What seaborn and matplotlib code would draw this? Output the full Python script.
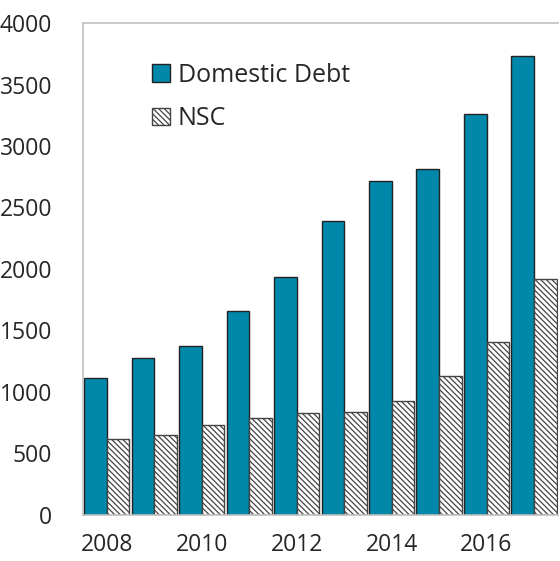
import matplotlib
matplotlib.use("Agg")
import matplotlib.pyplot as plt
import seaborn as sns
import pandas as pd
from matplotlib.patches import Patch

years = [2008, 2009, 2010, 2011, 2012, 2013, 2014, 2015, 2016, 2017]
domestic_debt = [1115, 1276, 1374, 1659, 1935, 2390, 2718, 2815, 3262, 3728]
nsc = [618, 650, 732, 789, 829, 838, 928, 1130, 1407, 1920]
series_names = ["Domestic Debt", "NSC"]
xtick_labels = ["2008", "2010", "2012", "2014", "2016"]
yticks = [0, 500, 1000, 1500, 2000, 2500, 3000, 3500, 4000]

df = pd.DataFrame({
    "year": [str(y) for y in years] * 2,
    "value": domestic_debt + nsc,
    "series": [series_names[0]] * len(years) + [series_names[1]] * len(years),
})

sns.set_style("white")
plt.rcParams["font.family"] = ["Open Sans", "DejaVu Sans"]
plt.rcParams["hatch.linewidth"] = 0.9

teal = "#0088AB"
hatch = "\\\\\\\\\\\\"
fig = plt.figure(figsize=(5.6, 5.61), dpi=100)
ax = fig.add_axes([0.148, 0.082, 0.848, 0.877])

sns.barplot(data=df, x="year", y="value", hue="series", palette=[teal, "white"],
            width=0.95, gap=0.0, edgecolor="#222222", linewidth=1.0, ax=ax,
            legend=False, saturation=1)

for bar in ax.containers[1]:
    bar.set_hatch(hatch)
    bar.set_facecolor("white")
    bar.set_edgecolor("#444444")

ax.set_xlim(-0.5, 9.5)
ax.set_ylim(0, 4000)
ax.set_yticks(yticks)
ax.set_yticklabels([str(v) for v in yticks], fontsize=16.5)
ax.set_xticks([0, 2, 4, 6, 8])
ax.set_xticklabels(xtick_labels, fontsize=16.5)
ax.set_xlabel("")
ax.set_ylabel("")
ax.tick_params(axis="y", direction="in", length=5, color="#bbbbbb", pad=22)
ax.tick_params(axis="x", length=0, pad=13)
for s in ["left", "bottom", "top"]:
    ax.spines[s].set_color("#c0c0c0")
    ax.spines[s].set_linewidth(1.2)
ax.spines["right"].set_visible(False)

handles = [Patch(facecolor=teal, edgecolor="#222222", label=series_names[0]),
           Patch(facecolor="white", edgecolor="#444444", hatch=hatch, label=series_names[1])]
ax.legend(handles=handles, loc="upper left", bbox_to_anchor=(0.125, 0.94), frameon=False,
          fontsize=18, handlelength=0.72, handleheight=0.72, handletextpad=0.3,
          labelspacing=0.75, borderaxespad=0)

fig.savefig("out.png", dpi=100)
